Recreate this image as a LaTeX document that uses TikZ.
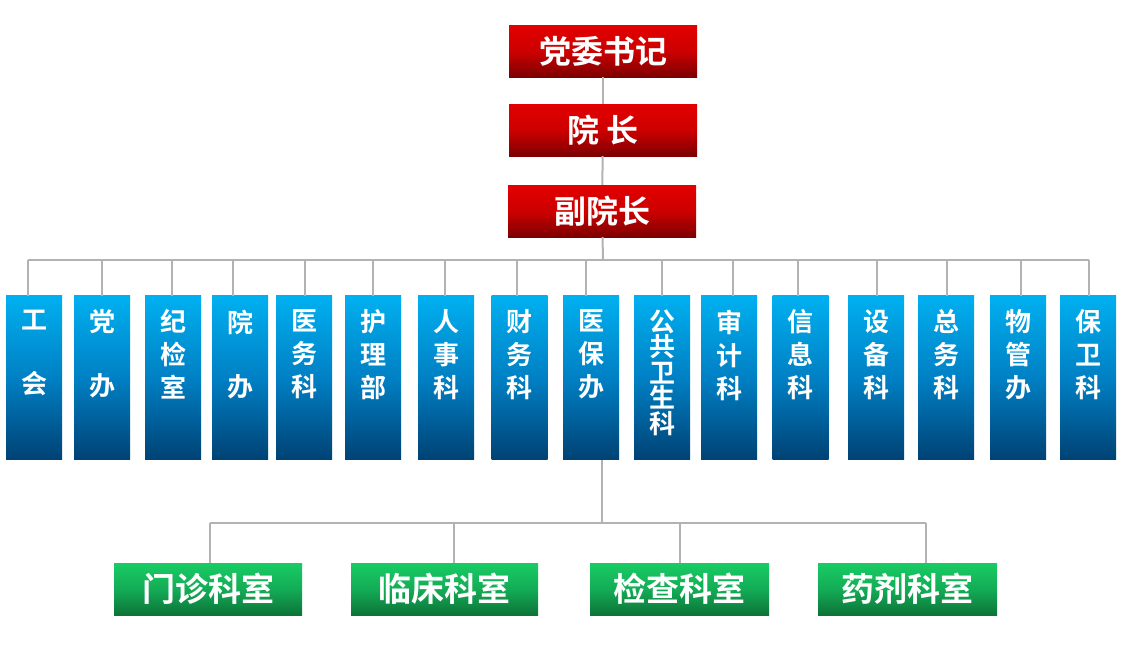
\documentclass[tikz,border=0pt]{standalone}
\usepackage{fontspec}
\newfontfamily\cjk{Noto Sans CJK SC Bold}
\definecolor{redtop}{RGB}{226,0,0}
\definecolor{redmid}{RGB}{205,0,0}
\definecolor{redbot}{RGB}{125,0,0}
\definecolor{bluetop}{RGB}{0,176,240}
\definecolor{bluemid}{RGB}{0,128,196}
\definecolor{bluebot}{RGB}{0,66,116}
\definecolor{greentop}{RGB}{24,204,100}
\definecolor{greenmid}{RGB}{20,172,86}
\definecolor{greenbot}{RGB}{12,116,56}
\definecolor{linegray}{RGB}{178,178,178}
\tikzset{
  box/.style={rectangle, inner sep=0pt, text=white},
  redbox/.style={box, minimum width=188pt, minimum height=52pt,
    top color=redtop, bottom color=redbot, middle color=redmid,
    font=\cjk\fontsize{32}{38}\selectfont},
  bluebox/.style={box, anchor=north, minimum width=56pt, minimum height=164pt,
    top color=bluetop, bottom color=bluebot, middle color=bluemid},
  bluetext/.style={text=white, inner sep=0pt, anchor=north, align=center},
  greenbox/.style={box, minimum height=52pt,
    top color=greentop, bottom color=greenbot, middle color=greenmid,
    font=\cjk\fontsize{33}{38}\selectfont},
  link/.style={draw=linegray, line width=2pt}
}

\begin{document}
\begin{tikzpicture}[x=1pt, y=-1pt]
  \useasboundingbox (0,0) rectangle (1128,667);

  % leadership
  \node[redbox] (shuji) at (603,51) {党委书记};
  \node[redbox] (yuanzhang) at (603,130) {院 长};
  \node[redbox] (fuyuanzhang) at (602,211) {副院长};

  \draw[link] (shuji) -- (yuanzhang);
  \draw[link] (yuanzhang) -- (fuyuanzhang);

  \coordinate (bus) at (603,260);
  \draw[link] (fuyuanzhang) -- (bus);

  % departments
  \foreach \name/\cx/\dx/\ls/\txt in {
      gonghui/34/-6/32/{工\\ \\会},
      dangban/102/0/32/{党\\ \\办},
      jijian/173/-1/33/{纪\\检\\室},
      yuanban/240/-7/32/{院\\ \\办},
      yiwu/304/1/33/{医\\务\\科},
      huli/373/0/33/{护\\理\\部},
      renshi/446/-1/33/{人\\事\\科},
      caiwu/519.5/-2.5/33/{财\\务\\科},
      yibao/591/-5/33/{医\\保\\办},
      gongwei/662/0/25.5/{公\\共\\卫\\生\\科},
      shenji/729/4/33/{审\\计\\科},
      xinxi/800.5/-3/33/{信\\息\\科},
      shebei/876/1/33/{设\\备\\科},
      zongwu/946/1/33/{总\\务\\科},
      wuguan/1018/3/33/{物\\管\\办},
      baowei/1088/1/33/{保\\卫\\科}} {
    \node[bluebox] (\name) at (\cx,295.5) {};
    \node[bluetext, font=\cjk\fontsize{26}{\ls}\selectfont] at ([yshift=-14pt]\name.north) {\txt};
    \draw[link] ([xshift=\dx pt]\name.north) -- ([xshift=\dx pt]\name.north |- bus);
  }
  \draw[link] ([xshift=-6pt]gonghui.north |- bus) -- ([xshift=1pt]baowei.north |- bus);

  % clinical units
  \coordinate (bus2) at (602,523);
  \draw[link] ([xshift=11pt]yibao.south) -- (bus2);

  \foreach \name/\cx/\w/\dx/\txt in {
      menzhen/208/188/2/门诊科室,
      linchuang/444.5/187/9.5/临床科室,
      jiancha/679.5/179/0.5/检查科室,
      yaoji/907.5/179/18.5/药剂科室} {
    \node[greenbox, minimum width=\w pt] (\name) at (\cx,589) {\txt};
    \draw[link] ([xshift=\dx pt]\name.north) -- ([xshift=\dx pt]\name.north |- bus2);
  }
  \draw[link] ([xshift=2pt]menzhen.north |- bus2) -- ([xshift=18.5pt]yaoji.north |- bus2);
\end{tikzpicture}
\end{document}
